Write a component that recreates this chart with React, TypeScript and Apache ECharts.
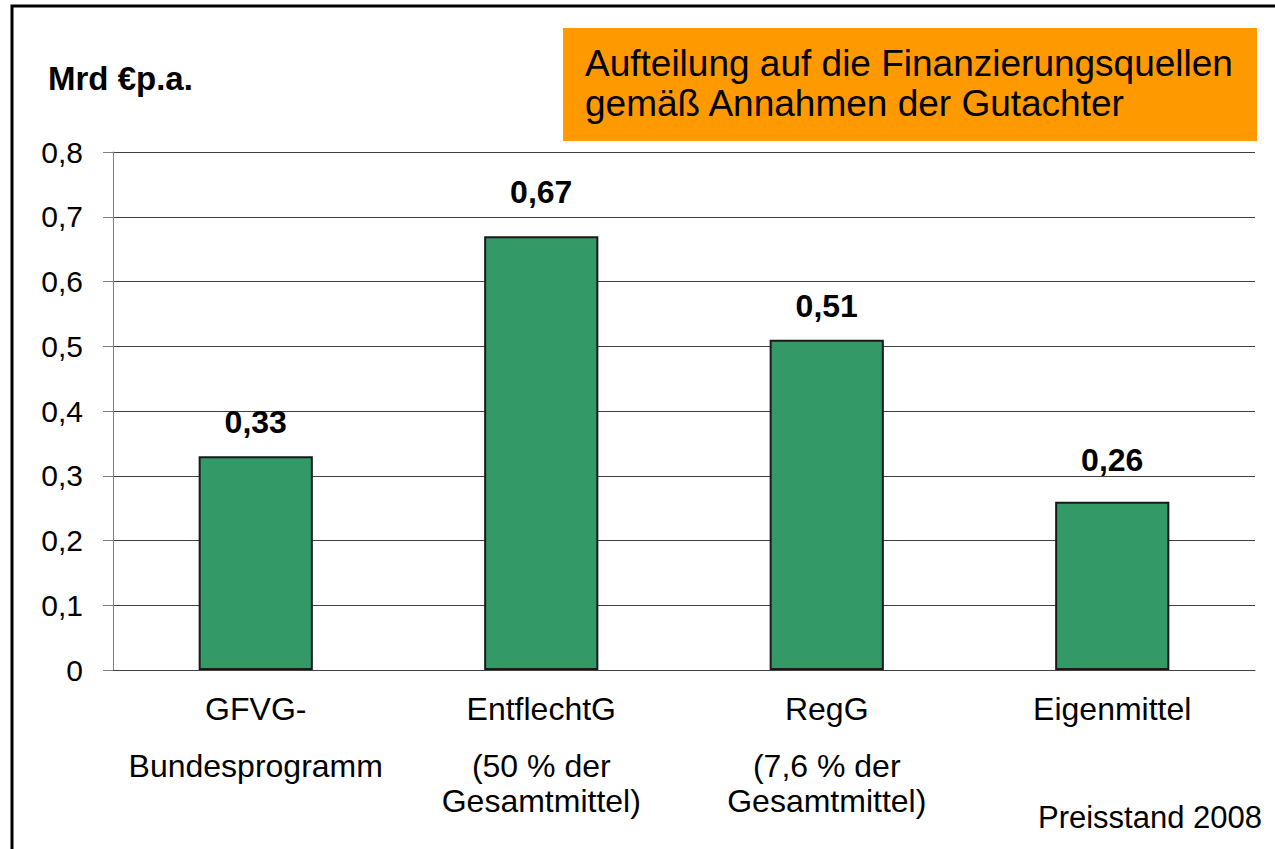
import React, { useEffect, useRef } from "react";
import * as echarts from "echarts";

const categories = [
  "{a|GFVG-}\n{b|Bundesprogramm}",
  "{a|EntflechtG}\n{b|(50 % der}\n{b|Gesamtmittel)}",
  "{a|RegG}\n{b|(7,6 % der}\n{b|Gesamtmittel)}",
  "{a|Eigenmittel}",
];
const values = [0.33, 0.67, 0.51, 0.26];
const yTicks = { min: 0, max: 0.8, interval: 0.1 };
const titleLines = ["Aufteilung auf die Finanzierungsquellen", "gemäß Annahmen der Gutachter"];
const unitLabel = "Mrd €p.a.";
const footnote = "Preisstand 2008";

const FONT = "'Liberation Sans', Arial, sans-serif";
const labelDistances = [18, 28, 18, 26];

export default function App() {
  const ref = useRef<HTMLDivElement>(null);
  useEffect(() => {
    document.body.style.margin = "0";
    const chart = echarts.init(ref.current!, null, { renderer: "svg" });
    chart.setOption({
      animation: false,
      backgroundColor: "#ffffff",
      textStyle: { fontFamily: FONT },
      grid: { left: 113, top: 152, right: 20, bottom: 179, containLabel: false },
      xAxis: {
        type: "category",
        data: categories,
        axisLine: { show: true, lineStyle: { color: "#404040", width: 1 } },
        axisTick: { show: false },
        axisLabel: {
          interval: 0,
          margin: 0,
          color: "#000",
          fontFamily: FONT,
          fontSize: 32,
          rich: {
            a: { fontSize: 32, lineHeight: 78, fontFamily: FONT, color: "#000" },
            b: { fontSize: 32, lineHeight: 35, fontFamily: FONT, color: "#000" },
          },
        },
      },
      yAxis: {
        type: "value",
        min: yTicks.min,
        max: yTicks.max,
        interval: yTicks.interval,
        axisLine: { show: true, lineStyle: { color: "#808080", width: 1 } },
        axisTick: { show: true, length: 10, lineStyle: { color: "#808080" } },
        axisLabel: {
          color: "#000",
          fontSize: 30,
          fontFamily: FONT,
          margin: 30,
          formatter: (v: number) => String(Math.round(v * 10) / 10).replace(".", ","),
        },
        splitLine: { show: true, lineStyle: { color: "#404040", width: 1 } },
      },
      series: [
        {
          type: "bar",
          data: values.map((v, i) => ({ value: v, label: { distance: labelDistances[i] } })),
          barWidth: "40%",
          itemStyle: { color: "#339966", borderColor: "#1a1a1a", borderWidth: 2 },
          label: {
            show: true,
            position: "top",
            distance: 18,
            color: "#000",
            fontWeight: "bold",
            fontSize: 32,
            fontFamily: FONT,
            formatter: (p: any) => String(p.value).replace(".", ","),
          },
        },
      ],
      graphic: [
        {
          type: "rect",
          shape: { x: 12, y: 6, width: 1400, height: 1000 },
          style: { fill: "none", stroke: "#000", lineWidth: 3 },
          silent: true,
        },
        {
          type: "rect",
          shape: { x: 563, y: 28, width: 694, height: 113 },
          style: { fill: "#FF9900" },
        },
        {
          type: "text",
          x: 585,
          y: 63,
          style: { text: titleLines[0], font: `37px ${FONT}`, fill: "#000", verticalAlign: "middle", align: "left" },
        },
        {
          type: "text",
          x: 585,
          y: 103,
          style: { text: titleLines[1], font: `37px ${FONT}`, fill: "#000", verticalAlign: "middle", align: "left" },
        },
        {
          type: "text",
          x: 48,
          y: 78,
          style: { text: unitLabel, font: `bold 33px ${FONT}`, fill: "#000", verticalAlign: "middle", align: "left" },
        },
        {
          type: "text",
          x: 1262,
          y: 817,
          style: { text: footnote, font: `31px ${FONT}`, fill: "#000", verticalAlign: "middle", align: "right" },
        },
      ],
    });
    return () => chart.dispose();
  }, []);
  return <div ref={ref} style={{ position: "absolute", left: 0, top: 0, width: 1275, height: 849 }} />;
}
